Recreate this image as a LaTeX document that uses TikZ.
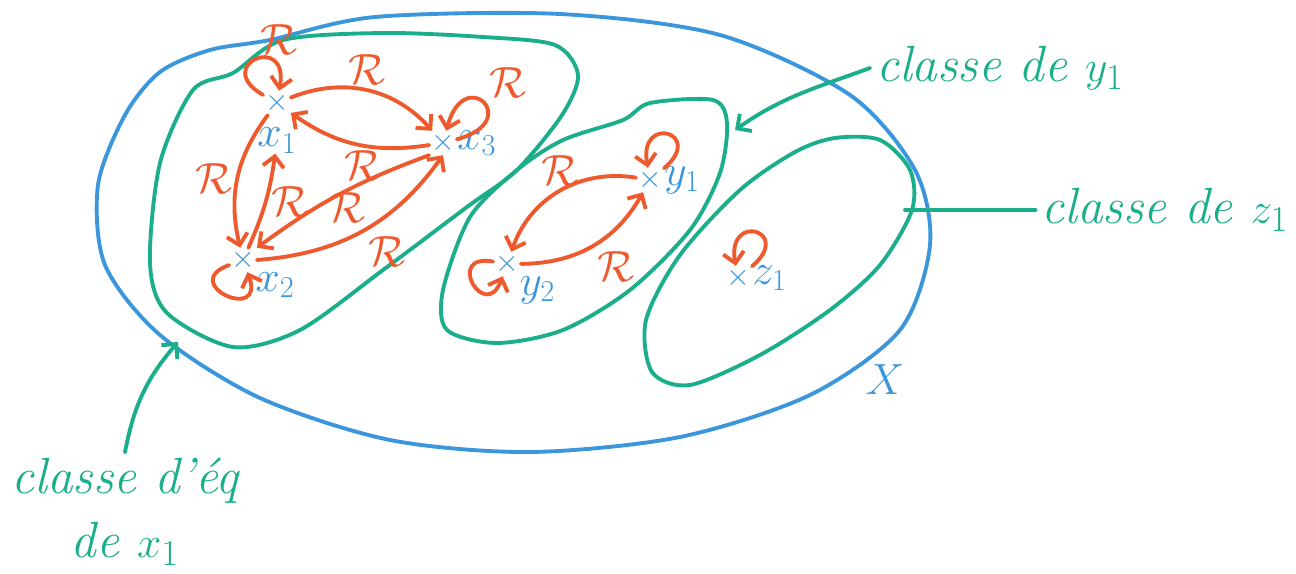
\documentclass[tikz,border=0pt]{standalone}
\usepackage{fontspec}
\usetikzlibrary{arrows.meta}
\definecolor{inkblue}{HTML}{3B96DB}
\definecolor{inkgreen}{HTML}{1AAE8A}
\definecolor{inkred}{HTML}{EE5A2E}

\begin{document}
\begin{tikzpicture}[x=0.02cm, y=0.02cm,
    pt/.style={text=inkblue, font=\LARGE, inner sep=1pt},
    ptlab/.style={text=inkblue, font=\fontsize{25}{30}\selectfont, inner sep=0pt},
    lab/.style={text=inkred, font=\fontsize{24}{28}\selectfont, inner sep=2pt},
    rel/.style={draw=inkred, line width=2.2pt, line cap=round,
                -{Straight Barb[length=6pt,width=12pt]}},
    cls/.style={draw=inkgreen, line width=2.2pt, line cap=round},
    univ/.style={draw=inkblue, line width=2.2pt, line cap=round},
    note/.style={text=inkgreen, font=\fontsize{29}{36}\selectfont\itshape,
                 align=center},
    pointer/.style={draw=inkgreen, line width=2.2pt, line cap=round,
                    -{Straight Barb[length=6pt,width=12pt]}}
  ]
    \useasboundingbox (0,0) rectangle (1296,-574);

    % the set X
    \draw[univ] plot[smooth cycle] coordinates {(375,-17) (560,-14) (720,-35)
      (850,-95) (915,-170) (930,-245) (900,-330) (810,-395) (680,-437)
      (530,-452) (390,-440) (260,-398) (160,-335) (105,-265) (98,-185)
      (125,-115) (160,-72) (210,-50) (270,-40)};
    \node[text=inkblue, font=\fontsize{28}{32}\selectfont] (X) at (885,-380) {$X$};

    % equivalence classes
    \draw[cls] plot[smooth cycle] coordinates {(233,-73) (283,-40) (383,-33)
      (483,-37) (555,-45) (578,-75) (562,-115) (517,-170) (467,-207)
      (383,-270) (300,-330) (233,-347) (167,-313) (150,-263) (160,-163)
      (193,-90)};
    \draw[cls] plot[smooth cycle] coordinates {(623,-120) (650,-103) (713,-100)
      (727,-123) (720,-173) (690,-230) (630,-290) (563,-330) (497,-343)
      (447,-330) (443,-290) (470,-217) (517,-170) (563,-140)};
    \draw[cls] plot[smooth cycle] coordinates {(835,-138) (880,-140) (910,-170)
      (912,-210) (880,-265) (830,-310) (760,-355) (690,-385) (652,-372)
      (646,-320) (680,-255) (740,-190) (795,-152)};

    % points
    \node[pt, label={[ptlab, name=x1l, yshift=-7pt]below:$x_1$}] (x1) at (277,-103) {$\times$};
    \node[pt, label={[ptlab]below right:$x_2$}] (x2) at (243,-260) {$\times$};
    \node[pt, label={[ptlab]right:$x_3$}] (x3) at (443,-143) {$\times$};
    \node[pt, label={[ptlab]right:$y_1$}] (y1) at (650,-180) {$\times$};
    \node[pt, label={[ptlab]below right:$y_2$}] (y2) at (507,-264) {$\times$};
    \node[pt, label={[ptlab]right:$z_1$}] (z1) at (738,-278) {$\times$};

    % relation R
    \draw[rel] (x1) to[loop, out=150, in=80, min distance=1.2cm]
      node[lab, above right] {$\mathcal{R}$} (x1);
    \draw[rel] (x1) to[bend left=35] node[lab, above] {$\mathcal{R}$} (x3);
    \draw[rel] (x3) to[bend left=22] node[lab, below, pos=0.45] {$\mathcal{R}$} (x1);
    \draw[rel] (x1) to[bend right=25] node[lab, left] {$\mathcal{R}$} (x2);
    \draw[rel] (x2) to[bend right=8] node[lab, right] {$\mathcal{R}$} (x1l);
    \draw[rel] (x3.south west) to[bend right=8]
      node[lab, below, pos=0.45, inner sep=0pt] {$\mathcal{R}$} (x2.north east);
    \draw[rel] (x2.east) to[bend right=25] node[lab, below right] {$\mathcal{R}$} (x3.south);
    \draw[rel] (x3) to[loop, out=15, in=75, min distance=1.4cm]
      node[lab, above right] {$\mathcal{R}$} (x3);
    \draw[rel] (x2) to[loop, out=200, in=290, min distance=1.1cm] (x2);

    \draw[rel] (y1) to[bend right=40] node[lab, above] {$\mathcal{R}$} (y2);
    \draw[rel] (y2) to[bend right=30] node[lab, below right] {$\mathcal{R}$} (y1);
    \draw[rel] (y1) to[loop, out=40, in=100, min distance=1.1cm] (y1);
    \draw[rel] (y2) to[loop, out=170, in=250, min distance=1cm] (y2);
    \draw[rel] (z1) to[loop, out=40, in=100, min distance=1.1cm] (z1);

    % annotations
    \node[note] (cy) at (1000,-68) {classe de $y_1$};
    \node[note] (cz) at (1165,-210) {classe de $z_1$};
    \node[note] (cx) at (125,-512) {classe d'éq\\de $x_1$};
    \coordinate (cyend) at (735,-130);
    \coordinate (czend) at (905,-210);
    \coordinate (cxend) at (178,-342);
    \draw[pointer] (cy.west) to[out=200, in=35] (cyend);
    \draw[cls] (cz.west) -- (czend);
    \draw[pointer] (cx.north) to[bend left=15] (cxend);
  \end{tikzpicture}
\end{document}
